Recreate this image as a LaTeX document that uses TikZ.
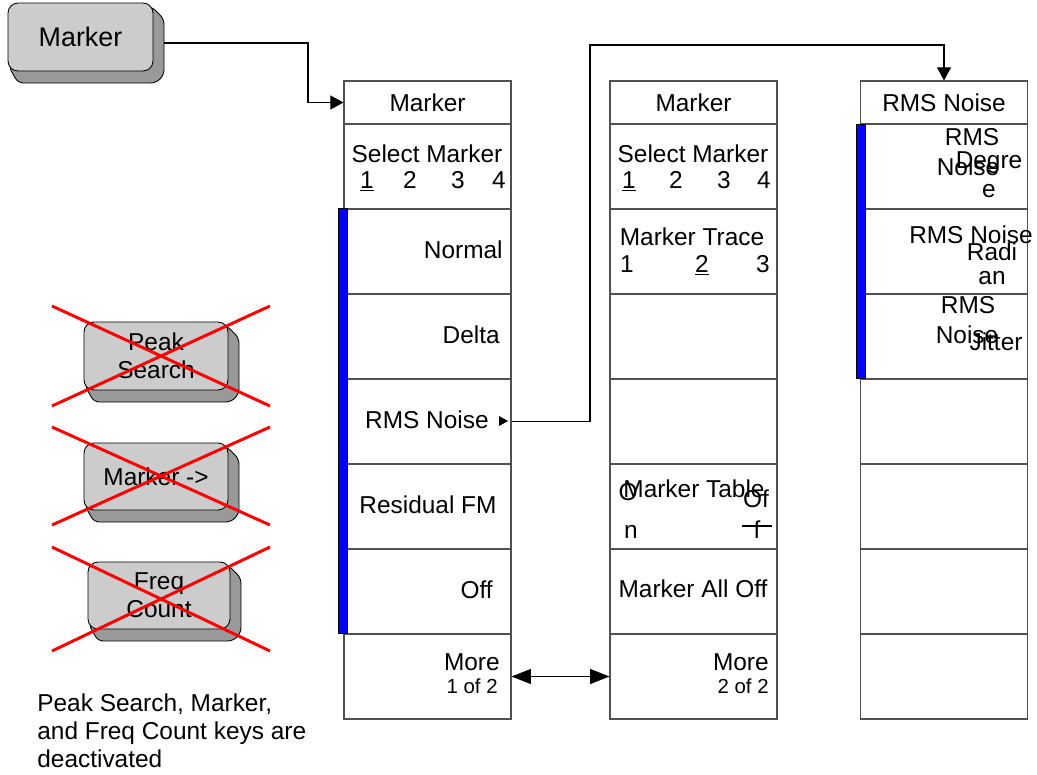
\documentclass[tikz,border=0pt]{standalone}
\usepackage{fontspec}
\setmainfont{Liberation Sans}
\usetikzlibrary{arrows.meta}
\definecolor{capface}{HTML}{cccccc}
\definecolor{capside}{HTML}{999999}
\definecolor{grade}{HTML}{505050}

% shaded side of a front-panel key: face corners x0,y0,x1,y1
\newcommand{\capshade}[4]{%
  \filldraw[fill=capside, draw=black, line width=0.5pt, rounded corners=3pt]
    (#3-2,#2+3) -- (#3+11,#2+16) -- (#3+11,#4+4) -- (#3+3,#4+12) -- (#1+10,#4+12) -- (#1,#4-6) -- cycle;}

\begin{document}
\begin{tikzpicture}[x=0.02cm,y=-0.02cm,font=\fontsize{13.9}{15.9}\selectfont,
  capkey/.style={draw=black, fill=capface, rounded corners=0.2cm, line width=0.5pt, align=center, inner sep=0pt},
  softkey/.style={draw=grade, fill=white, line width=0.6pt, minimum width=3.34cm, minimum height=1.7cm, inner sep=0pt},
  menutitle/.style={softkey, minimum height=0.86cm},
  lbl/.style={inner sep=0pt, anchor=base},
  rlbl/.style={inner sep=0pt, anchor=base east},
  small/.style={font=\fontsize{11.6}{13}\selectfont},
  link/.style={draw=black, line width=0.6pt, -{Triangle[length=7.5pt,width=8pt]}},
  twoway/.style={draw=black, line width=0.6pt, {Triangle[length=11pt,width=8.5pt]}-{Triangle[length=11pt,width=8.5pt]}},
  cross/.style={draw=red, line width=1.7pt},
  activebar/.style={fill=blue, draw=black, line width=0.4pt}]
\useasboundingbox (0,0) rectangle (1037,774);
% front-panel keys
\capshade{8}{3}{153}{71}
\node[capkey, minimum width=2.9cm, minimum height=1.36cm, font=\fontsize{15.3}{17}\selectfont] (mkey) at (80.5,37) {Marker};
\capshade{84}{322}{228}{390}
\node[capkey, minimum width=2.88cm, minimum height=1.36cm] (pkey) at (156,356) {Peak\\Search};
\capshade{84}{443}{228}{510}
\node[capkey, minimum width=2.88cm, minimum height=1.34cm] (tkey) at (156,476.5) {Marker ->};
\capshade{88}{562}{230}{629}
\node[capkey, minimum width=2.84cm, minimum height=1.34cm] (fkey) at (159,595.5) {Freq\\Count};
% deactivated keys
\foreach \ya/\yb in {306/406,427/525,547/651}
  \draw[cross] (52,\ya) -- (270,\yb) (52,\yb) -- (270,\ya);
\node[inner sep=0pt, anchor=base west, align=left] (note) at (37,767)
  {Peak Search, Marker,\\and Freq Count keys are\\deactivated};
% softkey menus
\foreach \col/\cx/\ttl in {a/427.5/Marker,b/693.5/Marker,c/944/RMS Noise}{
  \node[menutitle] (\col0) at (\cx,102.5) {};
  \node[lbl] at (\cx,111) {\ttl};
  \foreach \r in {1,...,7}
    \node[softkey] (\col\r) at (\cx,81.5+85*\r) {};
}
\draw[activebar] (338,208) rectangle (347,633);
\draw[activebar] (856,124) rectangle (865,378);
% menu 1
\node[lbl] at (427,162) {Select Marker};
\foreach \x/\n in {367/\underline{1},410/2,458/3,499/4} \node[lbl] at (\x,188) {\n};
\node[rlbl] at (503,258) {Normal};
\node[rlbl] at (500,343) {Delta};
\node[rlbl] at (489,428) {RMS Noise};
\fill (499,416) -- (508,421) -- (499,426) -- cycle;
\node[lbl] at (428,513) {Residual FM};
\node[rlbl] at (493,598) {Off};
\node[rlbl] at (500,670) {More};
\node[rlbl, small] at (498,693) {1 of 2};
% menu 2
\node[lbl] at (693,162) {Select Marker};
\foreach \x/\n in {629/\underline{1},676/2,724/3,764/4} \node[lbl] at (\x,188) {\n};
\node[lbl] at (692,245) {Marker Trace};
\foreach \x/\n in {627/1,702/\underline{2},763/3} \node[lbl] at (\x,272) {\n};
\node[lbl] at (694,497) {Marker Table};
\node[lbl] at (628,500) {O};
\node[lbl] at (631,538) {n};
\node[lbl] at (756,507) {Of};
\node[lbl] at (757,538) {f};
\draw[line width=0.6pt] (742,526) -- (772,526);
\node[lbl] at (693,597) {Marker All Off};
\node[rlbl] at (769,670) {More};
\node[rlbl, small] at (769,693) {2 of 2};
% menu 3
\node[lbl] at (972,145) {RMS};
\node[lbl] at (968,175) {Noise};
\node[lbl] at (989,168) {Degre};
\node[lbl] at (989,197) {e};
\node[lbl] at (971,243) {RMS Noise};
\node[lbl] at (992,260) {Radi};
\node[lbl] at (992,284) {an};
\node[lbl] at (968,313) {RMS};
\node[lbl] at (967,343) {Noise};
\node[lbl] at (996,350) {Jitter};
% connectors
\draw[link] (mkey.east) ++(11,6) -| (308,102.5) -- (a0.west);
\draw[link] (a4.east) -| (590,45) -| (c0.north);
\draw[twoway] (a7.east) -- (b7.west);
\end{tikzpicture}
\end{document}
